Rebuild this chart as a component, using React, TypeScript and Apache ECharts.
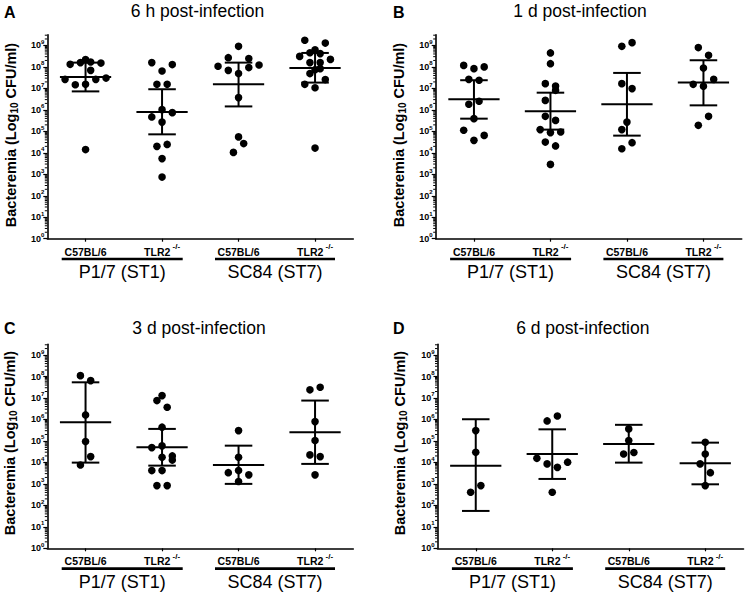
import React, { useEffect, useRef } from 'react';
import * as echarts from 'echarts';

// ---------- labels ----------
const groupLabels = ['C57BL/6', 'TLR2 -/-', 'C57BL/6', 'TLR2 -/-'];
const strainLabels = ['P1/7 (ST1)', 'SC84 (ST7)'];
const panelTitles = ['6 h post-infection', '1 d post-infection', '3 d post-infection', '6 d post-infection'];
const panelLetters = ['A', 'B', 'C', 'D'];
const yTickExponents = [0, 1, 2, 3, 4, 5, 6, 7, 8, 9];
const yAxisTitle = 'Bacteremia (Log{s|10} CFU/ml)';

// ---------- data: log10 CFU/ml per mouse, jitter in dot-steps ----------
// Panel A: 6 h
const h6Log = [
  [8.12, 8.2, 8.34, 8.23, 8.18, 7.84, 7.42, 7.42, 7.48, 7.17, 7.19, 4.15],
  [8.2, 8.11, 7.81, 7.19, 7.19, 6.01, 5.67, 5.87, 5.43, 4.3, 4.39, 3.73, 2.87],
  [8.96, 8.43, 8.39, 8.03, 8.09, 7.84, 7.97, 7.69, 6.57, 4.74, 4.43, 4.02],
  [9.24, 9.11, 8.8, 8.66, 8.62, 8.49, 8.35, 8.2, 8.2, 7.87, 7.69, 7.92, 7.41, 7.19, 7.03, 4.22],
];
const h6Jitter = [
  [-3, -1, 0, 1, 3, 1, -4, 2, 4, -2, 0, 0],
  [-2, 2, 0, -1, 1, 0, -2, 2, 0, -1, 1, 0, 0],
  [0, -2, 2, -4, 4, -2, 2, 0, 0, 0, 1, -1],
  [-2, 2, 0, -1, 1, -3, 3, -1, 1, 0, -1, 1, 2, -2, 0, 0],
];
const h6Mean = [7.53, 5.9, 7.19, 7.95];
const h6SdLow = [6.86, 4.86, 6.16, 7.27];
const h6SdHigh = [8.2, 6.96, 8.2, 8.65];

// Panel B: 1 d
const d1Log = [
  [8.07, 7.92, 8.0, 7.42, 7.38, 6.26, 6.4, 5.59, 5.05, 4.81, 4.58],
  [8.65, 8.15, 7.22, 7.11, 6.91, 6.44, 5.7, 5.51, 5.08, 4.94, 4.97, 4.5, 4.32, 3.46],
  [8.96, 9.13, 7.22, 6.99, 5.43, 5.08, 4.47, 4.19],
  [8.9, 8.54, 7.95, 7.19, 7.1, 7.42, 5.7, 5.28],
];
const d1Jitter = [
  [-2, 0, 2, -1, 1, -1, 1, 0, -2, 2, 0],
  [0, 0, -1, 1, 1, -1, -1, 1, -2, 0, 2, -1, 1, 0],
  [-1, 1, -1, 1, 0, -1, 1, -1],
  [-1, 1, 0, -2, 0, 2, 1, -1],
];
const d1Mean = [6.49, 5.93, 6.26, 7.27];
const d1SdLow = [5.59, 5.08, 4.8, 6.21];
const d1SdHigh = [7.38, 6.8, 7.72, 8.31];

// Panel C: 3 d
const d3Log = [
  [8.04, 7.81, 6.21, 4.97, 4.27, 3.88],
  [7.11, 6.88, 6.57, 5.64, 4.69, 4.77, 4.24, 4.3, 4.11, 3.62, 3.62, 2.92, 2.92],
  [5.48, 4.24, 3.52, 3.62, 3.42, 3.11],
  [7.38, 7.5, 5.9, 5.02, 4.35, 4.27, 3.42],
];
const d3Jitter = [
  [-1, 1, 0, 0, 1, -1],
  [0, -1, 1, 0, -2, 0, 0, 2, 2, -2, 0, -1, 1],
  [0, 0, -2, 0, 2, 0],
  [-1, 1, 0, 0, -1, 1, 0],
];
const d3Mean = [5.87, 4.7, 3.88, 5.4];
const d3SdLow = [3.99, 3.85, 3.0, 3.93];
const d3SdHigh = [7.73, 5.56, 4.78, 6.88];

// Panel D: 6 d
const d6Log = [
  [5.48, 4.47, 2.92, 2.61],
  [5.93, 6.16, 4.19, 3.93, 3.77, 4.01, 2.61],
  [5.56, 5.02, 4.39, 4.46],
  [4.94, 4.39, 3.93, 3.52, 2.92],
];
const d6Jitter = [
  [0, 0, 1, -1],
  [-1, 1, -3, -1, 1, 3, 0],
  [0, 0, -1, 1],
  [0, 0, -1, 1, 0],
];
const d6Mean = [3.85, 4.39, 4.86, 3.96];
const d6SdLow = [1.74, 3.23, 3.99, 2.98];
const d6SdHigh = [6.01, 5.54, 5.75, 4.92];

// ---------- layout ----------
const FONT = "'Liberation Sans', Arial, Helvetica, sans-serif";
const GRID_W = 306;
const GRID_H = 204;
const JITTER_STEP = 0.067;
const layout = [
  { left: 47.3, top: 34.7, titleX: 197.5, titleY: 11, letterX: 4, letterY: 12, nameX: 11, nameY: 135 },
  { left: 435.7, top: 34.7, titleX: 580, titleY: 11, letterX: 393, letterY: 12, nameX: 399, nameY: 135 },
  { left: 47.3, top: 344.3, titleX: 199, titleY: 328, letterX: 4, letterY: 328, nameX: 10, nameY: 443 },
  { left: 437.5, top: 344.3, titleX: 582.8, titleY: 328, letterX: 393, letterY: 328, nameX: 400, nameY: 443 },
];

const panels = [
  { log: h6Log, jit: h6Jitter, mean: h6Mean, lo: h6SdLow, hi: h6SdHigh },
  { log: d1Log, jit: d1Jitter, mean: d1Mean, lo: d1SdLow, hi: d1SdHigh },
  { log: d3Log, jit: d3Jitter, mean: d3Mean, lo: d3SdLow, hi: d3SdHigh },
  { log: d6Log, jit: d6Jitter, mean: d6Mean, lo: d6SdLow, hi: d6SdHigh },
];

const groupPositions = groupLabels.map((_, i) => i + 0.5);
const yMinorTicks: number[] = [];
for (let d = 0; d <= 9; d++) {
  for (let k = 2; k <= 9; k++) {
    const v = d + Math.log10(k);
    if (v <= 9.5) yMinorTicks.push(v);
  }
}

function buildOption() {
  const grid = layout.map((p) => ({
    left: p.left,
    top: p.top,
    width: GRID_W,
    height: GRID_H,
    containLabel: false,
    outerBoundsMode: 'none',
  }));

  const xAxis = layout.map((_, i) => ({
    type: 'value',
    gridIndex: i,
    min: 0,
    max: 4,
    position: 'bottom',
    axisLine: { show: true, onZero: false, lineStyle: { color: '#000', width: 1.6 } },
    axisTick: { show: true, length: 3, customValues: groupPositions, lineStyle: { color: '#000', width: 1.2 } },
    axisLabel: {
      show: true,
      customValues: groupPositions,
      margin: 4,
      formatter: (v: number) => {
        const lab = groupLabels[Math.floor(v)] || '';
        const parts = lab.split(' ');
        return parts.length > 1 ? `{b|${parts[0]}}{s| ${parts[1]}}` : `{b|${lab}}`;
      },
      rich: {
        b: { fontFamily: FONT, fontSize: 10.5, fontWeight: 'bold', color: '#000', lineHeight: 18 },
        s: { fontFamily: FONT, fontSize: 8, fontWeight: 'bold', color: '#000', lineHeight: 8, padding: [0, 0, 10, 0] },
      },
    },
    splitLine: { show: false },
  }));

  const yAxis = layout.map((_, i) => ({
    type: 'value',
    gridIndex: i,
    min: 0,
    max: 9.5,
    position: 'left',
    axisLine: { show: true, onZero: false, lineStyle: { color: '#000', width: 1.6 } },
    axisTick: { show: true, length: 4, customValues: yTickExponents, lineStyle: { color: '#000', width: 1.2 } },
    axisLabel: {
      show: true,
      customValues: yTickExponents,
      margin: 3,
      formatter: (v: number) => `{b|10}{s|${Math.round(v)}}`,
      rich: {
        b: { fontFamily: FONT, fontSize: 9, fontWeight: 'bold', color: '#000', lineHeight: 14 },
        s: { fontFamily: FONT, fontSize: 6, fontWeight: 'bold', color: '#000', lineHeight: 7, padding: [0, 0, 7, 0] },
      },
    },
    splitLine: { show: false },
  }));

  const series: any[] = [];
  panels.forEach((p, i) => {
    // minor log ticks on the y axis
    series.push({
      type: 'custom',
      xAxisIndex: i,
      yAxisIndex: i,
      clip: false,
      silent: true,
      data: yMinorTicks.map((v) => [0, v]),
      encode: { x: 0, y: 1 },
      renderItem: (_params: any, api: any) => {
        const pt = api.coord([0, api.value(1)]);
        return {
          type: 'line',
          shape: { x1: pt[0] - 2.5, y1: pt[1], x2: pt[0], y2: pt[1] },
          style: { stroke: '#000', lineWidth: 1 },
        };
      },
    });
    // mean ± SD
    series.push({
      type: 'custom',
      xAxisIndex: i,
      yAxisIndex: i,
      clip: false,
      silent: true,
      data: groupLabels.map((_, g) => [g + 0.5, p.mean[g], p.lo[g], p.hi[g]]),
      encode: { x: 0, y: [1, 2, 3] },
      renderItem: (_params: any, api: any) => {
        const x = api.value(0);
        const pm = api.coord([x, api.value(1)]);
        const pl = api.coord([x, api.value(2)]);
        const ph = api.coord([x, api.value(3)]);
        const band = api.size([1, 0])[0];
        const mw = band * 0.335;
        const cw = band * 0.18;
        const st = { stroke: '#000', lineWidth: 2 };
        return {
          type: 'group',
          children: [
            { type: 'line', shape: { x1: pm[0] - mw, y1: pm[1], x2: pm[0] + mw, y2: pm[1] }, style: st },
            { type: 'line', shape: { x1: pl[0], y1: pl[1], x2: ph[0], y2: ph[1] }, style: st },
            { type: 'line', shape: { x1: pl[0] - cw, y1: pl[1], x2: pl[0] + cw, y2: pl[1] }, style: st },
            { type: 'line', shape: { x1: ph[0] - cw, y1: ph[1], x2: ph[0] + cw, y2: ph[1] }, style: st },
          ],
        };
      },
    });
    // individual mice
    const pts: number[][] = [];
    p.log.forEach((vals, g) => {
      vals.forEach((v, k) => {
        pts.push([g + 0.5 + p.jit[g][k] * JITTER_STEP, v]);
      });
    });
    series.push({
      type: 'scatter',
      xAxisIndex: i,
      yAxisIndex: i,
      symbol: 'circle',
      symbolSize: 7.6,
      itemStyle: { color: '#000', opacity: 1 },
      silent: true,
      data: pts,
    });
  });

  const graphic: any[] = [];
  layout.forEach((p, i) => {
    const base = p.top + GRID_H;
    graphic.push({
      type: 'text',
      x: p.letterX,
      y: p.letterY,
      style: { text: panelLetters[i], fontFamily: FONT, fontSize: 16, fontWeight: 'bold', fill: '#000', verticalAlign: 'middle' },
    });
    graphic.push({
      type: 'text',
      x: p.titleX,
      y: p.titleY,
      style: { text: panelTitles[i], fontFamily: FONT, fontSize: 17.5, fill: '#000', align: 'center', verticalAlign: 'middle' },
    });
    graphic.push({
      type: 'text',
      x: p.nameX,
      y: p.nameY,
      rotation: Math.PI / 2,
      style: {
        text: yAxisTitle,
        fontFamily: FONT,
        fontSize: 14.5,
        fontWeight: 'bold',
        fill: '#000',
        align: 'center',
        verticalAlign: 'middle',
        lineHeight: 18,
        rich: {
          s: { fontFamily: FONT, fontSize: 10, fontWeight: 'bold', fill: '#000', lineHeight: 11, padding: [7, 0, 0, 0] },
        },
      },
    });
    const bars = [
      [14.4, 135.4],
      [167.7, 287.7],
    ];
    bars.forEach((b, s) => {
      graphic.push({
        type: 'line',
        shape: { x1: p.left + b[0], y1: base + 20.3, x2: p.left + b[1], y2: base + 20.3 },
        style: { stroke: '#000', lineWidth: 2.6 },
      });
      graphic.push({
        type: 'text',
        x: p.left + (b[0] + b[1]) / 2,
        y: base + 33.6,
        style: { text: strainLabels[s], fontFamily: FONT, fontSize: 18, fill: '#000', align: 'center', verticalAlign: 'middle' },
      });
    });
  });

  return {
    animation: false,
    backgroundColor: '#fff',
    grid,
    xAxis,
    yAxis,
    series,
    graphic,
  };
}

export default function App() {
  const ref = useRef<HTMLDivElement>(null);
  useEffect(() => {
    document.body.style.margin = '0';
    if (!ref.current) return;
    const chart = echarts.init(ref.current, undefined, { renderer: 'svg' });
    chart.setOption(buildOption() as any);
    return () => chart.dispose();
  }, []);
  return <div ref={ref} style={{ width: 748, height: 597 }} />;
}
